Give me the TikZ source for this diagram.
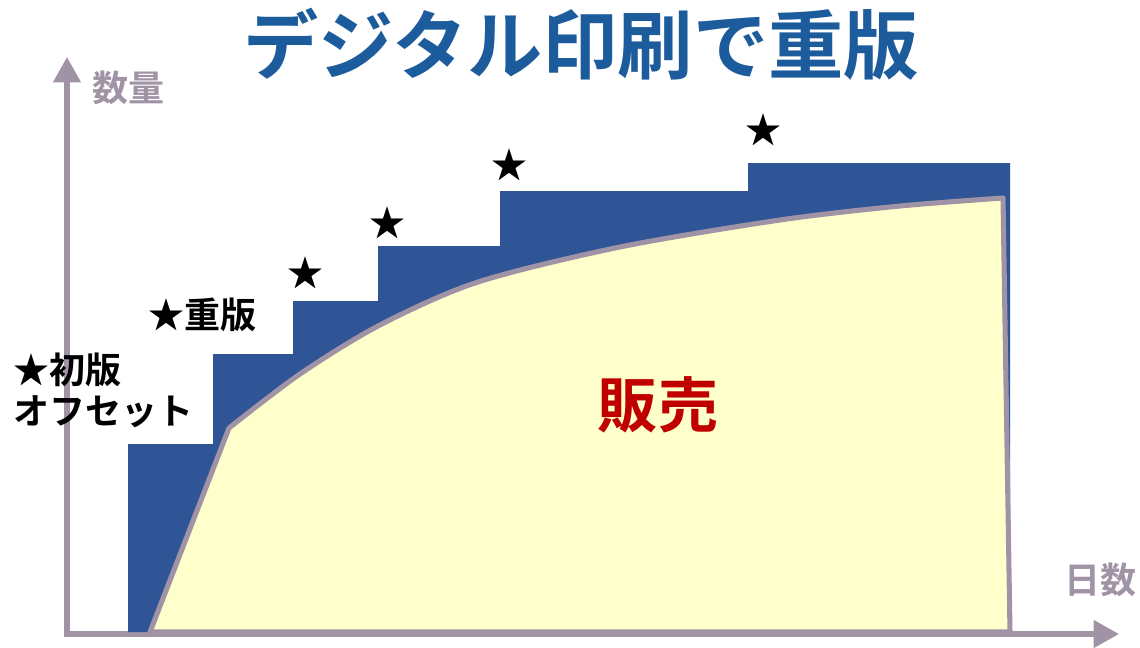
\documentclass[tikz,border=0pt]{standalone}
\usepackage{fontspec}
\setmainfont{Noto Sans CJK JP Bold}
\usetikzlibrary{arrows.meta}
\definecolor{stepblue}{HTML}{2F5597}
\definecolor{titleblue}{HTML}{1C5B9C}
\definecolor{axisgray}{HTML}{A093A5}
\definecolor{salesyellow}{HTML}{FFFFCC}
\definecolor{salesred}{HTML}{C00000}
\begin{document}
\begin{tikzpicture}[x=0.025cm, y=-0.025cm, inner sep=0pt,
  axis/.style = {draw=axisgray, line width=3.6pt},
  label/.style = {font=\fontsize{25.6}{30}\selectfont, anchor=west},
  star/.style = {font=\fontsize{25.6}{30}\selectfont}]
\useasboundingbox (0,0) rectangle (1140,647);
% axes
\coordinate (o) at (67,634);
\coordinate (ytip) at (67,57);
\coordinate (xtip) at (1119,634);
\draw[axis, {Triangle[width=19pt,length=18pt]}-{Triangle[width=19pt,length=18pt]}] (ytip) -- (o) -- (xtip);
\node[text=axisgray, label] (qty) at (92,88) {数量};
\node[text=axisgray, label] (days) at (1064,580) {日数};
% print runs
\fill[stepblue] (128,632) -- (128,444) -- (213,444) -- (213,354) -- (293,354) -- (293,301)
  -- (378,301) -- (378,246) -- (500,246) -- (500,191) -- (748,191) -- (748,163)
  -- (1010,163) -- (1010,632) -- cycle;
% sales
\draw[fill=salesyellow, draw=axisgray, line width=3.6pt, line join=round]
  (150,632) -- plot[smooth] coordinates {(229,428) (300,374) (380,325) (478,282) (620,247) (780,220) (900,206) (1003,198)}
  -- (1010,632) -- cycle;
% labels
\node[label] (first) at (13,370) {★初版};
\node[label] (offset) at (13,412) {オフセット};
\node[label] (reprint) at (148,315) {★重版};
\node[star] (s1) at (305,273) {★};
\node[star] (s2) at (387,223) {★};
\node[star] (s3) at (509,165) {★};
\node[star] (s4) at (763,130) {★};
\node[text=salesred, font=\fontsize{42.7}{50}\selectfont] (sales) at (658,405) {販売};
\node[text=titleblue, font=\fontsize{53.5}{60}\selectfont] (title) at (581,44) {デジタル印刷で重版};
\end{tikzpicture}
\end{document}
